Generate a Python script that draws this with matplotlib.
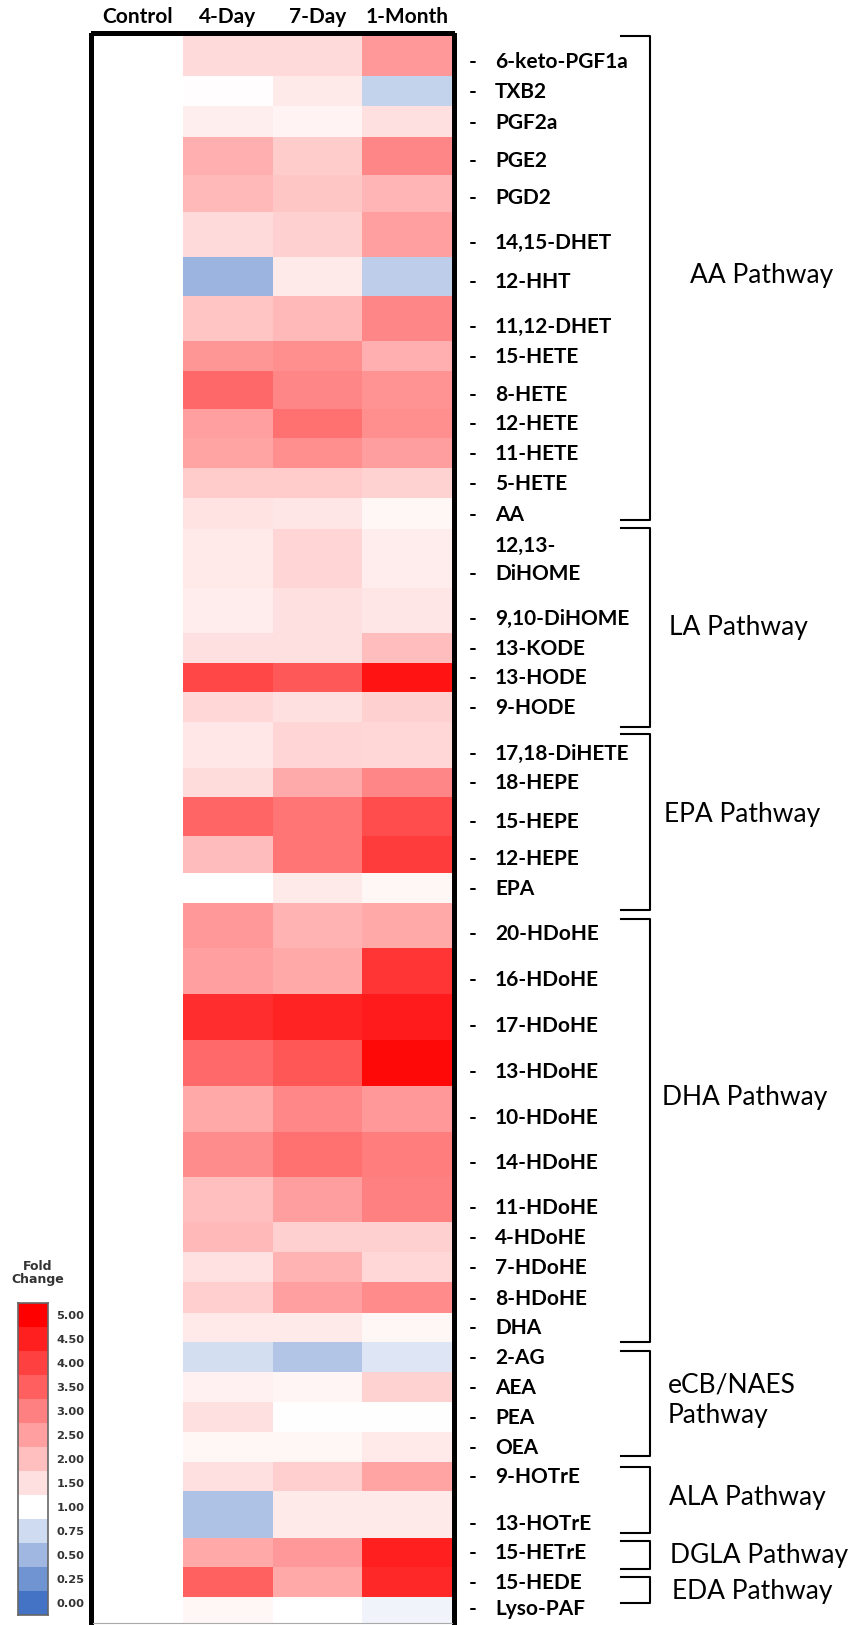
import matplotlib.pyplot as plt
import matplotlib.transforms as mtransforms
import numpy as np
from matplotlib.colors import LinearSegmentedColormap, Normalize
from matplotlib.lines import Line2D

W, H = 851, 1625

groups = ["Control", "4-Day", "7-Day", "1-Month"]

metabolites = [
    "6-keto-PGF1a", "TXB2", "PGF2a", "PGE2", "PGD2", "14,15-DHET", "12-HHT",
    "11,12-DHET", "15-HETE", "8-HETE", "12-HETE", "11-HETE", "5-HETE", "AA",
    "12,13-\nDiHOME", "9,10-DiHOME", "13-KODE", "13-HODE", "9-HODE",
    "17,18-DiHETE", "18-HEPE", "15-HEPE", "12-HEPE", "EPA",
    "20-HDoHE", "16-HDoHE", "17-HDoHE", "13-HDoHE", "10-HDoHE", "14-HDoHE",
    "11-HDoHE", "4-HDoHE", "7-HDoHE", "8-HDoHE", "DHA",
    "2-AG", "AEA", "PEA", "OEA",
    "9-HOTrE", "13-HOTrE",
    "15-HETrE",
    "15-HEDE",
    "Lyso-PAF",
]

# fold change vs control (control = 1)
day4 = [1.6, 1.05, 1.27, 2.25, 2.1, 1.6, 0.47, 1.93, 2.65, 3.37, 2.5, 2.45, 1.83, 1.45,
        1.35, 1.3, 1.5, 3.87, 1.63,
        1.38, 1.55, 3.4, 2.07, 1.0,
        2.6, 2.5, 4.28, 3.34, 2.35, 2.8, 2.0, 2.1, 1.47, 1.77, 1.35,
        0.77, 1.23, 1.5, 1.14,
        1.5, 0.58,
        2.35,
        3.48,
        1.15]
day7 = [1.6, 1.33, 1.2, 1.8, 1.9, 1.75, 1.33, 2.1, 2.77, 2.9, 3.24, 2.77, 1.83, 1.4,
        1.67, 1.5, 1.5, 3.63, 1.5,
        1.67, 2.33, 3.18, 3.18, 1.33,
        2.2, 2.35, 4.44, 3.65, 2.88, 3.24, 2.53, 1.75, 2.2, 2.5, 1.33,
        0.6, 1.17, 1.02, 1.14,
        1.77, 1.33,
        2.6,
        2.35,
        1.0]
month1 = [2.6, 0.69, 1.5, 2.9, 2.15, 2.5, 0.66, 2.9, 2.25, 2.7, 2.77, 2.53, 1.7, 1.15,
          1.3, 1.4, 2.05, 4.7, 1.75,
          1.63, 2.9, 3.8, 4.06, 1.15,
          2.35, 4.17, 4.56, 4.87, 2.6, 3.04, 3.0, 1.75, 1.63, 2.83, 1.15,
          0.83, 1.7, 1.02, 1.35,
          2.45, 1.33,
          4.5,
          4.37,
          0.93]
control = [1.0] * len(metabolites)

pathways = ["AA Pathway", "LA Pathway", "EPA Pathway", "DHA Pathway",
            "eCB/NAES\nPathway", "ALA Pathway", "DGLA Pathway", "EDA Pathway"]

legend_values = [5.0, 4.5, 4.0, 3.5, 3.0, 2.5, 2.0, 1.5, 1.0, 0.75, 0.5, 0.25, 0.0]

# ---- layout (pixels) ----
row_edges = [35, 76, 106, 137, 175, 212, 257, 296, 341, 371, 409, 438, 468, 498, 529,
             588, 633, 663, 692, 722, 768, 797, 836, 873, 903, 948, 994, 1040, 1086,
             1132, 1177, 1222, 1252, 1282, 1313, 1342, 1372, 1402, 1432, 1462, 1491,
             1538, 1567, 1597, 1623]
bracket_spans = [(36, 520), (528, 727), (734, 910), (919, 1342),
                 (1351, 1456), (1467, 1533), (1541, 1569), (1577, 1603)]
pathway_pos = [(690, 275), (669, 628), (664, 815), (662, 1097),
               (668, 1400), (669, 1498), (670, 1556), (672, 1592)]

LBL = ["Lato", "DejaVu Sans"]


def fx(x):
    return x / W


def fy(y):
    return 1 - y / H


cmap = LinearSegmentedColormap.from_list(
    "fold", [(0.0, "#4472C4"), (0.2, "#FFFFFF"), (1.0, "#FF0000")])
norm = Normalize(vmin=0, vmax=5)

fig = plt.figure(figsize=(W / 100, H / 100), dpi=100)

# ---- heatmap ----
x0, x1 = 93, 452
ax = fig.add_axes([fx(x0), fy(row_edges[-1]), (x1 - x0) / W,
                   (row_edges[-1] - row_edges[0]) / H])
data = np.column_stack([control, day4, day7, month1])
ax.pcolormesh(np.arange(5), row_edges, data, cmap=cmap, norm=norm)
ax.set_xlim(0, 4)
ax.set_ylim(row_edges[-1], row_edges[0])
ax.set_xticks([])
ax.set_yticks([])
for side in ["left", "top", "right"]:
    ax.spines[side].set_linewidth(3.6)
    ax.spines[side].set_color("black")
    ax.spines[side].set_position(("outward", 1.8))
ax.spines["bottom"].set_linewidth(0.8)
ax.spines["bottom"].set_color("#AAAAAA")

# column headers
head_tr = mtransforms.blended_transform_factory(ax.transData, fig.transFigure)
for j, g in enumerate(groups):
    ax.text(j + 0.5, fy(17), g, transform=head_tr, fontsize=15,
            fontweight="bold", family=LBL, ha="center", va="center")

# ---- row labels ----
for i, name in enumerate(metabolites):
    yb = row_edges[i + 1] - 14
    fig.text(fx(473), fy(yb), "-", fontsize=15, fontweight="bold", family=LBL,
             ha="center", va="center")
    lines = name.split("\n")
    for k, line in enumerate(lines):
        yk = yb - (len(lines) - 1 - k) * 28
        fig.text(fx(495), fy(yk), line, fontsize=15, fontweight="bold",
                 family=LBL, ha="left", va="center")

# ---- pathway brackets ----
for (top, bot), label, (px, py) in zip(bracket_spans, pathways, pathway_pos):
    xs = [fx(621), fx(650), fx(650), fx(621)]
    ys = [fy(top), fy(top), fy(bot), fy(bot)]
    fig.add_artist(Line2D(xs, ys, color="black", lw=1.5))
    fig.text(fx(px), fy(py), label, fontsize=19, family=LBL,
             ha="left", va="center", linespacing=1.3)

# ---- colour legend ----
lax = fig.add_axes([fx(18), fy(1615), 30 / W, (1615 - 1303) / H])
lax.pcolormesh(np.array(legend_values)[:, None], cmap=cmap, norm=norm)
lax.set_ylim(len(legend_values), 0)
lax.set_xticks([])
lax.yaxis.tick_right()
lax.set_yticks(np.arange(len(legend_values)) + 0.5)
lax.set_yticklabels([f"{v:.2f}" for v in legend_values], fontsize=8.2,
                    fontweight="bold", color="#333333")
lax.tick_params(axis="y", length=0, pad=6)
for s in lax.spines.values():
    s.set_color("#666666")
    s.set_linewidth(1.2)
fig.text(fx(38), fy(1273), "Fold\nChange", fontsize=9, fontweight="bold",
         ha="center", va="center", color="#333333", linespacing=1.1)

fig.savefig("out.png", dpi=100)
